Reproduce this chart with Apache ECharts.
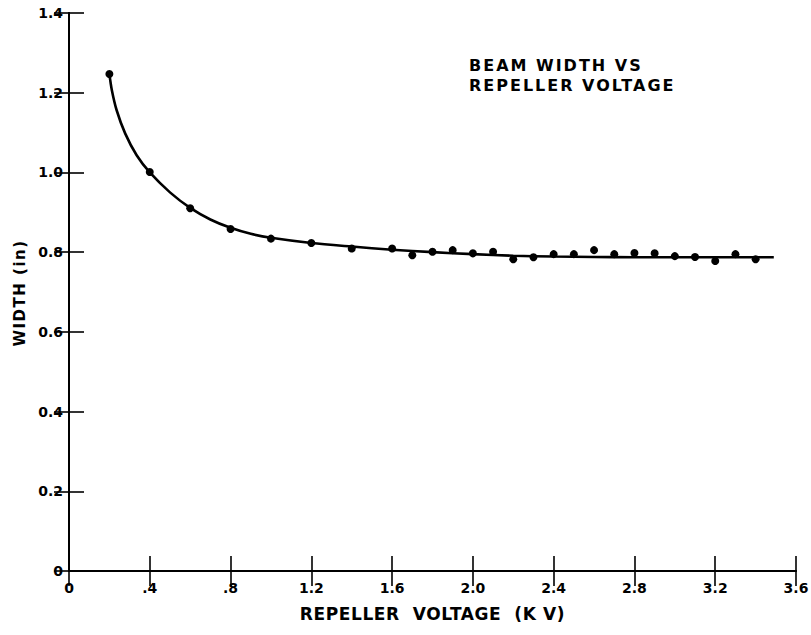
<!DOCTYPE html>
<html>
<head>
<meta charset="utf-8">
<script src="https://cdn.jsdelivr.net/npm/echarts@6/dist/echarts.min.js"></script>
<style>
html,body{margin:0;padding:0;background:#fff;}
#main{width:811px;height:635px;}
</style>
</head>
<body>
<div id="main"></div>
<script>
// Measured points (repeller voltage kV, beam width in)
var pointX = [0.2, 0.4, 0.6, 0.8, 1.0, 1.2, 1.4, 1.6, 1.7, 1.8, 1.9, 2.0, 2.1, 2.2, 2.3, 2.4, 2.5, 2.6, 2.7, 2.8, 2.9, 3.0, 3.1, 3.2, 3.3, 3.4];
var pointY = [1.247, 1.001, 0.910, 0.858, 0.834, 0.823, 0.809, 0.809, 0.792, 0.801, 0.805, 0.797, 0.801, 0.782, 0.787, 0.795, 0.795, 0.805, 0.795, 0.798, 0.797, 0.790, 0.788, 0.778, 0.795, 0.782];
// Fitted curve
var curveX = [0.2, 0.212, 0.236, 0.278, 0.335, 0.4, 0.5, 0.6, 0.7, 0.8, 0.9, 1.0, 1.2, 1.4, 1.6, 1.8, 2.0, 2.2, 2.4, 2.6, 2.8, 3.0, 3.2, 3.49];
var curveY = [1.247, 1.207, 1.156, 1.098, 1.043, 1.0, 0.950, 0.911, 0.882, 0.861, 0.846, 0.836, 0.823, 0.814, 0.806, 0.800, 0.795, 0.791, 0.789, 0.788, 0.787, 0.787, 0.787, 0.787];
var xTickLabels = ['0', '.4', '.8', '1.2', '1.6', '2.0', '2.4', '2.8', '3.2', '3.6'];
var yTickLabels = ['0', '0.2', '0.4', '0.6', '0.8', '1.0', '1.2', '1.4'];

var FONT = 'DejaVu Sans';
var INK = '#000';

var pointData = pointX.map(function (x, i) { return [x, pointY[i]]; });
var curveData = curveX.map(function (x, i) { return [x, curveY[i]]; });

var chart = echarts.init(document.getElementById('main'), null, { renderer: 'svg' });

var axisCommonX = {
  type: 'value', min: 0, max: 3.6, interval: 0.4,
  splitLine: { show: false },
  axisLine: { show: true, lineStyle: { color: INK, width: 2 } },
  axisTick: { show: true, inside: true, length: 15, lineStyle: { color: INK, width: 1.6 } }
};
var axisCommonY = {
  type: 'value', min: 0, max: 1.4, interval: 0.2,
  splitLine: { show: false },
  axisLine: { show: true, lineStyle: { color: INK, width: 2 } },
  axisTick: { show: true, inside: true, length: 15, lineStyle: { color: INK, width: 1.6 } }
};

var option = {
  animation: false,
  backgroundColor: '#fff',
  grid: { left: 69, right: 15, top: 13, bottom: 64, containLabel: false, outerBoundsMode: 'none' },
  title: {
    text: 'BEAM WIDTH VS\nREPELLER VOLTAGE',
    left: 469, top: 55,
    padding: 0,
    textStyle: { fontFamily: FONT, fontSize: 16, fontWeight: 'bold', color: INK, lineHeight: 20 }
  },
  xAxis: [
    Object.assign({}, axisCommonX, {
      position: 'bottom',
      name: 'REPELLER  VOLTAGE  (K V)',
      nameLocation: 'middle', nameGap: 34,
      nameTextStyle: { fontFamily: FONT, fontSize: 17, fontWeight: 'bold', color: INK },
      axisLabel: {
        show: true, margin: 10, fontFamily: FONT, fontSize: 14, fontWeight: 'bold', color: INK,
        formatter: function (v) { return xTickLabels[Math.round(v / 0.4)]; }
      }
    }),
    Object.assign({}, axisCommonX, {
      position: 'top',
      axisLabel: { show: false }
    })
  ],
  yAxis: [
    Object.assign({}, axisCommonY, {
      position: 'left',
      name: 'WIDTH (in)',
      nameLocation: 'middle', nameGap: 38,
      nameTextStyle: { fontFamily: FONT, fontSize: 15, fontWeight: 'bold', color: INK, padding: [0, 2, 0, 0] },
      axisLabel: {
        show: true, margin: 6, fontFamily: FONT, fontSize: 14, fontWeight: 'bold', color: INK,
        formatter: function (v) { return yTickLabels[Math.round(v / 0.2)]; }
      }
    }),
    Object.assign({}, axisCommonY, {
      position: 'right',
      axisLabel: { show: false }
    })
  ],
  series: [
    {
      type: 'line', name: 'fit', data: curveData,
      smooth: 0.3, showSymbol: false, symbol: 'none',
      lineStyle: { color: INK, width: 2.6 },
      z: 2
    },
    {
      type: 'scatter', name: 'measured', data: pointData,
      symbol: 'circle', symbolSize: 8,
      itemStyle: { color: INK, opacity: 1 },
      z: 3
    }
  ]
};
chart.setOption(option);

function applySpacing() {
  var texts = document.querySelectorAll('#main text');
  texts.forEach(function (t) {
    var s = (t.textContent || '').trim();
    if (/^[\d.]+$/.test(s)) return;
    if (s.indexOf('(K') >= 0) {
      t.style.letterSpacing = '0.6px';
    } else if (s.indexOf('(in)') >= 0) {
      t.style.letterSpacing = '1.5px';
    } else {
      t.style.letterSpacing = '2px';
    }
  });
}
applySpacing();
chart.on('finished', applySpacing);
</script>
</body>
</html>
